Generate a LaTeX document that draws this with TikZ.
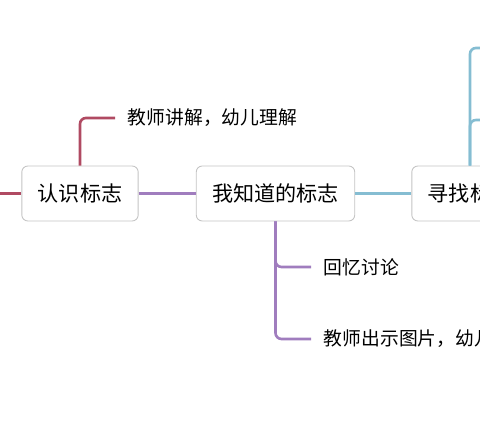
\documentclass[tikz,border=0pt]{standalone}
\usepackage{fontspec}
\usepackage{xcolor}
\setmainfont{Noto Sans CJK SC}
\definecolor{redline}{HTML}{B04A62}
\definecolor{purpleline}{HTML}{A07DBE}
\definecolor{blueline}{HTML}{85BDD2}
\definecolor{boxedge}{HTML}{C4C4C4}

\begin{document}
\begin{tikzpicture}[x=0.02cm, y=-0.02cm,
        box/.style={draw=boxedge, line width=0.5pt, fill=white, rounded corners=0.12cm,
                    minimum height=1.1cm, inner xsep=0.32cm, font=\fontsize{12}{14}\selectfont},
        leaf/.style={anchor=west, inner xsep=0.25cm, font=\fontsize{10.7}{13}\selectfont},
        branch/.style={line width=1.5pt, rounded corners=0.12cm}]
                \useasboundingbox (0,0) rectangle (480,448);
                \clip (0,0) rectangle (480,448);

                %% topics
                \node[box] (b1) at (80,193.5) {认识标志};
                \node[box] (b2) at (275.5,193.5) {我知道的标志};
                \node[box] (b3) at (470,193.5) {寻找标志};

                %% main line
                \coordinate (lead) at (-10,193.5);
                \draw[branch, redline] (lead) -- (b1.west);
                \draw[branch, purpleline] (b1.east) -- (b2.west);
                \draw[branch, blueline] (b2.east) -- (b3.west);

                %% 认识标志
                \node[leaf] (t1) at (115,118) {教师讲解，幼儿理解};
                \draw[branch, redline] (b1.north) |- (t1.west);

                %% 我知道的标志
                \node[leaf] (t2) at (311,267) {回忆讨论};
                \node[leaf] (t3) at (311,339) {教师出示图片，幼儿};
                \draw[branch, purpleline] (b2.south) |- (t2.west);
                \draw[branch, purpleline] (b2.south) |- (t3.west);

                %% 寻找标志
                \coordinate (c1) at (500,48);
                \coordinate (c2) at (500,120);
                \draw[branch, blueline] (b3.north) |- (c1);
                \draw[branch, blueline] (b3.north) |- (c2);

            \end{tikzpicture}
\end{document}
